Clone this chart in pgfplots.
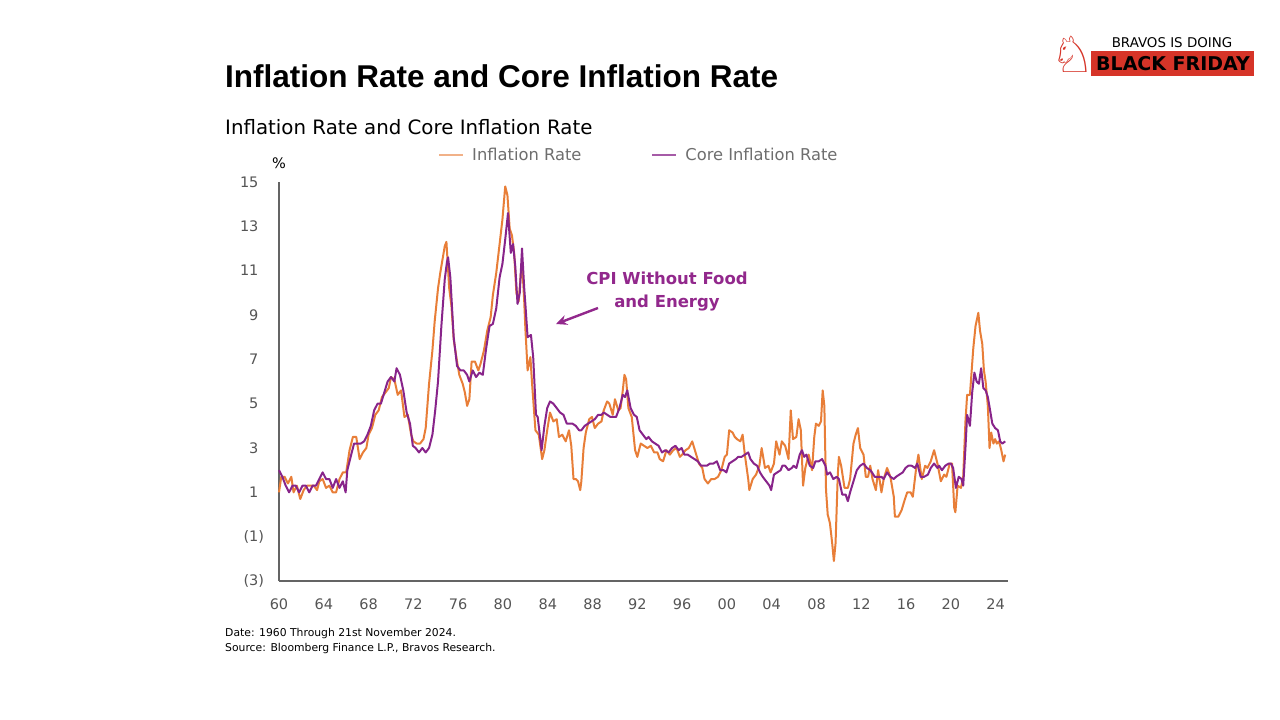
\documentclass[border=0pt]{standalone}
\usepackage{pgfplots}
\pgfplotsset{compat=1.18}
\usetikzlibrary{arrows.meta}
\usepackage{fontspec}
\setmainfont{DejaVu Sans}
\newfontfamily\symfont{DejaVu Sans}
\newfontfamily\titlefont{Liberation Sans}
\definecolor{infl}{RGB}{232,126,56}
\definecolor{core}{RGB}{136,36,138}
\definecolor{annot}{RGB}{146,40,140}
\definecolor{labelgray}{RGB}{85,85,85}
\definecolor{leggray}{RGB}{110,110,110}
\definecolor{axisgray}{RGB}{100,100,100}
\definecolor{bfred}{RGB}{214,52,40}
\newcommand{\negthree}{(3\rlap{)}}
\newcommand{\negone}{(1\rlap{)}}
\begin{document}
\begin{tikzpicture}[x=1pt,y=1pt]
\path[fill=white] (0,0) rectangle (1280,-720);
% titles
\node[anchor=base west,inner sep=0pt,font=\titlefont\fontsize{31.5}{34}\selectfont\bfseries] at (225,-87) {Inflation Rate and Core Inflation Rate};
\node[anchor=base west,inner sep=0pt,font=\fontsize{19.8}{22}\selectfont] at (225,-134) {Inflation Rate and Core Inflation Rate};
\node[font=\fontsize{14.5}{18}\selectfont] at (279,-163) {\%};
% footer
\node[anchor=base west,inner sep=0pt,font=\fontsize{10.8}{14}\selectfont] at (225,-636) {Date: 1960 Through 21st November 2024.};
\node[anchor=base west,inner sep=0pt,font=\fontsize{10.8}{14}\selectfont] at (225,-651) {Source: Bloomberg Finance L.P., Bravos Research.};
% logo
\node[text=bfred,font=\symfont\fontsize{50}{56}\selectfont] at (1073,-54) {♘};
\node[font=\fontsize{13.4}{16}\selectfont] at (1172,-43) {BRAVOS IS DOING};
\fill[bfred] (1091,-51) rectangle (1254,-76);
\node[font=\fontsize{19}{24}\selectfont\bfseries] at (1173,-63.5) {BLACK FRIDAY};
% annotation
\node[text=annot,font=\fontsize{16.5}{23}\selectfont\bfseries,align=center] at (667,-292) {CPI Without Food\\and Energy};
\draw[annot,line width=2.4pt,-{Stealth[length=11pt,width=10pt]}] (598,-308) -- (556,-324);
\begin{axis}[
 at={(279pt,-581pt)}, anchor=south west, scale only axis,
 width=729pt, height=399pt,
 xmin=1960, xmax=2025.1, ymin=-3, ymax=15,
 axis x line*=bottom, axis y line*=left,
 axis line style={draw=axisgray, line width=1.3pt},
 xtick={1960,1964,1968,1972,1976,1980,1984,1988,1992,1996,2000,2004,2008,2012,2016,2020,2024},
 xticklabels={60,64,68,72,76,80,84,88,92,96,00,04,08,12,16,20,24},
 ytick={-3,-1,1,3,5,7,9,11,13,15},
 yticklabels={\negthree,\negone,1,3,5,7,9,11,13,15},
 major tick length=0pt,
 tick label style={font=\fontsize{14.5}{18}\selectfont, text=labelgray},
 /pgf/number format/assume math mode=true,
 yticklabel style={xshift=-17pt},
 xticklabel style={yshift=-14pt},
 clip=false,
 legend columns=2,
 legend image code/.code={\draw[#1] (0pt,0pt) -- (24pt,0pt);},
 legend style={at={(0.495,1.068)}, anchor=center, draw=none, fill=none,
   font=\fontsize{16.3}{19}\selectfont, text=leggray,
   nodes={inner sep=4pt},
   /tikz/every odd column/.append style={column sep=4pt},
   /tikz/every even column/.append style={column sep=66pt}},
]
\addlegendimage{infl!60, line width=2pt}
\addlegendentry{Inflation Rate}
\addlegendimage{core!75, line width=2pt}
\addlegendentry{Core Inflation Rate}
\addplot[infl, line width=2pt, line join=round, forget plot] coordinates {
(1960.0,1.0)(1960.2,1.7)(1960.5,1.7)(1960.8,1.4)(1961.1,1.7)(1961.3,1.0)(1961.6,1.3)(1961.9,0.7)
(1962.2,1.1)(1962.5,1.3)(1962.8,1.3)(1963.1,1.3)(1963.4,1.1)(1963.6,1.5)(1963.9,1.6)
(1964.2,1.2)(1964.5,1.3)(1964.8,1.0)(1965.1,1.0)(1965.4,1.6)(1965.7,1.9)
(1966.0,1.9)(1966.3,2.9)(1966.6,3.5)(1966.9,3.5)(1967.2,2.5)(1967.5,2.8)(1967.8,3.0)
(1968.0,3.6)(1968.3,3.9)(1968.6,4.5)(1968.9,4.7)(1969.2,5.3)(1969.5,5.5)(1969.8,5.7)
(1970.0,6.2)(1970.3,6.1)(1970.6,5.4)(1970.9,5.6)(1971.2,4.4)(1971.5,4.5)(1971.8,3.6)
(1972.0,3.3)(1972.3,3.2)(1972.6,3.2)(1972.9,3.4)(1973.1,3.9)(1973.4,5.9)(1973.7,7.4)(1973.9,8.7)
(1974.2,10.2)(1974.4,10.9)(1974.6,11.5)(1974.8,12.1)(1974.95,12.3)(1975.2,10.2)(1975.4,9.4)(1975.6,7.9)(1975.9,6.9)
(1976.1,6.3)(1976.4,5.9)(1976.6,5.5)(1976.8,4.9)(1977.0,5.2)(1977.2,6.9)(1977.5,6.9)(1977.8,6.5)
(1978.0,6.8)(1978.3,7.4)(1978.6,8.3)(1978.9,8.9)(1979.1,9.9)(1979.4,10.9)(1979.7,12.2)(1979.95,13.3)
(1980.1,14.2)(1980.2,14.8)(1980.4,14.4)(1980.6,12.9)(1980.8,12.6)(1981.0,11.8)(1981.2,10.0)(1981.4,9.6)
(1981.6,10.9)(1981.75,11.0)(1981.9,9.6)(1982.0,8.4)(1982.2,6.5)(1982.45,7.1)(1982.6,5.9)(1982.9,3.8)
(1983.2,3.6)(1983.5,2.5)(1983.7,2.9)(1983.95,3.8)(1984.2,4.6)(1984.5,4.2)(1984.8,4.3)
(1985.0,3.5)(1985.3,3.6)(1985.6,3.3)(1985.9,3.8)(1986.1,3.1)(1986.3,1.6)(1986.5,1.6)(1986.7,1.5)(1986.9,1.1)
(1987.0,1.5)(1987.2,3.0)(1987.4,3.7)(1987.7,4.3)(1987.95,4.4)(1988.2,3.9)(1988.5,4.1)(1988.8,4.2)
(1989.0,4.7)(1989.3,5.1)(1989.5,5.0)(1989.8,4.5)(1990.0,5.2)(1990.3,4.7)(1990.5,4.8)(1990.7,5.6)(1990.85,6.3)
(1991.0,6.1)(1991.2,4.8)(1991.5,4.4)(1991.8,2.9)(1992.0,2.6)(1992.3,3.2)(1992.6,3.1)(1992.9,3.0)
(1993.2,3.1)(1993.5,2.8)(1993.8,2.8)(1994.0,2.5)(1994.3,2.4)(1994.6,2.9)(1994.9,2.7)
(1995.2,2.9)(1995.5,3.0)(1995.8,2.6)(1996.0,2.7)(1996.3,2.9)(1996.6,3.0)(1996.9,3.3)
(1997.2,2.8)(1997.5,2.3)(1997.8,2.1)(1998.0,1.6)(1998.3,1.4)(1998.6,1.6)(1998.9,1.6)
(1999.2,1.7)(1999.5,2.0)(1999.8,2.6)(2000.0,2.7)(2000.2,3.8)(2000.5,3.7)(2000.7,3.5)(2000.9,3.4)
(2001.2,3.3)(2001.4,3.6)(2001.6,2.7)(2001.9,1.6)(2002.0,1.1)(2002.3,1.6)(2002.6,1.8)(2002.9,2.2)
(2003.1,3.0)(2003.4,2.1)(2003.7,2.2)(2003.9,1.9)(2004.2,2.3)(2004.4,3.3)(2004.7,2.7)(2004.9,3.3)
(2005.2,3.1)(2005.5,2.5)(2005.7,4.7)(2005.9,3.4)(2006.2,3.5)(2006.4,4.3)(2006.6,3.8)(2006.8,1.3)
(2007.0,2.1)(2007.3,2.7)(2007.6,2.0)(2007.8,3.5)(2007.95,4.1)(2008.2,4.0)(2008.4,4.2)(2008.55,5.6)
(2008.7,4.9)(2008.85,1.1)(2009.0,0.0)(2009.2,-0.4)(2009.4,-1.3)(2009.55,-2.1)(2009.7,-1.3)(2009.9,1.8)
(2010.0,2.6)(2010.2,2.2)(2010.5,1.2)(2010.8,1.2)(2011.0,1.6)(2011.3,3.2)(2011.5,3.6)(2011.7,3.9)(2011.9,3.0)
(2012.2,2.7)(2012.4,1.7)(2012.6,1.7)(2012.8,2.2)(2013.0,1.6)(2013.3,1.1)(2013.5,2.0)(2013.8,1.0)
(2014.0,1.6)(2014.3,2.1)(2014.6,1.7)(2014.9,0.8)(2015.0,-0.1)(2015.3,-0.1)(2015.6,0.2)(2015.9,0.7)
(2016.1,1.0)(2016.4,1.0)(2016.6,0.8)(2016.9,2.1)(2017.1,2.7)(2017.4,1.6)(2017.7,2.2)(2017.9,2.1)
(2018.2,2.4)(2018.5,2.9)(2018.8,2.3)(2018.95,1.9)(2019.1,1.5)(2019.4,1.8)(2019.6,1.7)(2019.9,2.3)
(2020.1,2.3)(2020.3,0.3)(2020.4,0.1)(2020.6,1.3)(2020.9,1.2)(2021.1,1.7)(2021.3,4.2)(2021.45,5.4)
(2021.7,5.4)(2021.9,6.8)(2022.0,7.5)(2022.2,8.5)(2022.45,9.1)(2022.6,8.3)(2022.8,7.7)(2022.95,6.5)
(2023.1,6.0)(2023.3,4.9)(2023.45,3.0)(2023.6,3.7)(2023.8,3.2)(2023.95,3.4)(2024.1,3.2)(2024.3,3.3)
(2024.5,2.9)(2024.7,2.4)(2024.85,2.7)
};
\addplot[core, line width=2pt, line join=round, forget plot] coordinates {
(1960.0,2.0)(1960.3,1.7)(1960.6,1.3)(1960.9,1.0)(1961.2,1.3)(1961.5,1.3)(1961.8,1.0)
(1962.1,1.3)(1962.4,1.3)(1962.7,1.0)(1963.0,1.3)(1963.3,1.3)(1963.6,1.6)(1963.9,1.9)
(1964.2,1.6)(1964.5,1.6)(1964.8,1.2)(1965.1,1.6)(1965.4,1.2)(1965.7,1.5)(1965.95,1.0)
(1966.1,2.0)(1966.4,2.6)(1966.7,3.2)(1967.0,3.2)(1967.3,3.2)(1967.6,3.3)(1967.9,3.6)
(1968.2,4.0)(1968.5,4.7)(1968.8,5.0)(1969.1,5.0)(1969.4,5.5)(1969.7,6.0)
(1970.0,6.2)(1970.3,6.0)(1970.5,6.6)(1970.8,6.3)(1971.1,5.6)(1971.4,4.6)(1971.7,4.1)(1971.95,3.1)
(1972.2,3.0)(1972.5,2.8)(1972.8,3.0)(1973.1,2.8)(1973.4,3.0)(1973.7,3.6)(1973.95,4.7)
(1974.2,6.0)(1974.5,8.5)(1974.8,10.6)(1975.0,11.4)(1975.1,11.6)(1975.3,10.7)(1975.6,8.0)(1975.9,6.7)
(1976.2,6.5)(1976.5,6.5)(1976.8,6.3)(1977.0,6.0)(1977.3,6.5)(1977.6,6.2)(1977.9,6.4)
(1978.2,6.3)(1978.5,7.5)(1978.8,8.5)(1979.1,8.6)(1979.4,9.3)(1979.7,10.7)(1979.95,11.3)
(1980.2,12.4)(1980.45,13.6)(1980.7,11.8)(1980.9,12.2)(1981.1,11.2)(1981.3,9.5)(1981.5,10.0)(1981.7,12.0)(1981.9,10.2)
(1982.0,9.5)(1982.2,8.0)(1982.5,8.1)(1982.7,7.1)(1982.95,4.5)(1983.1,4.4)(1983.45,2.9)(1983.7,4.0)(1983.95,4.8)
(1984.2,5.1)(1984.5,5.0)(1984.8,4.8)(1985.1,4.6)(1985.4,4.5)(1985.7,4.1)(1985.95,4.1)
(1986.2,4.1)(1986.5,4.0)(1986.8,3.8)(1987.0,3.8)(1987.3,4.0)(1987.6,4.1)(1987.9,4.2)
(1988.2,4.3)(1988.5,4.5)(1988.8,4.5)(1989.0,4.6)(1989.3,4.5)(1989.6,4.4)(1989.9,4.4)
(1990.1,4.4)(1990.4,4.8)(1990.7,5.4)(1990.9,5.3)(1991.1,5.6)(1991.4,4.8)(1991.7,4.5)(1991.95,4.4)
(1992.2,3.8)(1992.5,3.6)(1992.8,3.4)(1993.0,3.5)(1993.3,3.3)(1993.6,3.2)(1993.9,3.1)
(1994.2,2.8)(1994.5,2.9)(1994.8,2.8)(1995.1,3.0)(1995.4,3.1)(1995.7,2.9)(1995.95,3.0)
(1996.2,2.7)(1996.5,2.7)(1996.8,2.6)(1997.1,2.5)(1997.4,2.4)(1997.7,2.2)(1997.95,2.2)
(1998.2,2.2)(1998.5,2.3)(1998.8,2.3)(1999.1,2.4)(1999.4,2.0)(1999.7,2.0)(1999.95,1.9)
(2000.2,2.3)(2000.5,2.4)(2000.8,2.5)(2001.0,2.6)(2001.3,2.6)(2001.6,2.7)(2001.9,2.8)
(2002.1,2.5)(2002.4,2.3)(2002.7,2.2)(2002.95,1.9)(2003.2,1.7)(2003.5,1.5)(2003.8,1.3)(2003.95,1.1)
(2004.2,1.8)(2004.5,1.9)(2004.8,2.0)(2004.95,2.2)(2005.2,2.2)(2005.5,2.0)(2005.8,2.1)(2005.95,2.2)
(2006.2,2.1)(2006.5,2.7)(2006.7,2.9)(2006.9,2.6)(2007.1,2.7)(2007.4,2.2)(2007.7,2.1)(2007.9,2.4)
(2008.2,2.4)(2008.5,2.5)(2008.8,2.2)(2008.95,1.8)(2009.2,1.9)(2009.5,1.6)(2009.8,1.7)
(2010.0,1.6)(2010.3,0.9)(2010.6,0.9)(2010.8,0.6)(2011.0,1.0)(2011.3,1.5)(2011.6,2.0)(2011.9,2.2)
(2012.2,2.3)(2012.5,2.1)(2012.8,2.0)(2012.95,1.9)(2013.2,1.7)(2013.5,1.7)(2013.8,1.7)
(2014.0,1.6)(2014.3,1.9)(2014.6,1.7)(2014.9,1.6)(2015.1,1.7)(2015.4,1.8)(2015.7,1.9)(2015.95,2.1)
(2016.2,2.2)(2016.5,2.2)(2016.8,2.1)(2017.0,2.3)(2017.3,1.7)(2017.6,1.7)(2017.95,1.8)
(2018.2,2.1)(2018.5,2.3)(2018.8,2.1)(2018.95,2.2)(2019.2,2.0)(2019.5,2.2)(2019.8,2.3)
(2020.0,2.3)(2020.2,2.1)(2020.45,1.2)(2020.7,1.7)(2020.95,1.6)(2021.1,1.3)(2021.3,3.0)(2021.45,4.5)
(2021.7,4.0)(2021.9,5.5)(2022.1,6.4)(2022.3,6.0)(2022.5,5.9)(2022.7,6.6)(2022.9,5.7)
(2023.1,5.6)(2023.3,5.3)(2023.5,4.7)(2023.7,4.1)(2023.95,3.9)(2024.2,3.8)(2024.4,3.3)(2024.6,3.2)(2024.85,3.3)
};
\end{axis}
\end{tikzpicture}
\end{document}
